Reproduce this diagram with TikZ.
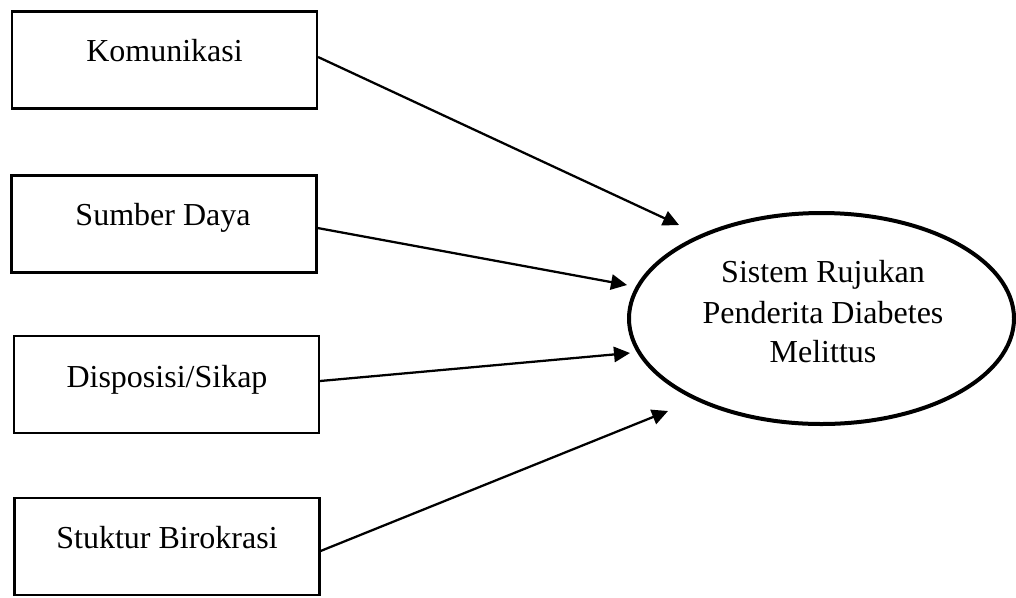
\documentclass[tikz,border=0pt]{standalone}
\usepackage{fontspec}
\setmainfont{Liberation Serif}
\usetikzlibrary{shapes.geometric,arrows.meta}
\begin{document}
\begin{tikzpicture}[x=0.75pt,y=-0.75pt,
  box/.style={draw, line width=1.6pt, minimum width=305*0.75pt, minimum height=97*0.75pt, inner sep=0pt},
  lbl/.style={font=\fontsize{24}{30}\selectfont, anchor=base, inner sep=0pt},
  oval/.style={draw, ellipse, line width=3pt, minimum width=385*0.75pt, minimum height=211*0.75pt, inner sep=0pt},
  arr/.style={line width=1.7pt, -{Triangle[length=12pt,width=11.5pt]}}]
\useasboundingbox (0,0) rectangle (1016,597);
% boxes
\node[box] (b1) at (164.5,60) {};
\node[box] (b2) at (164,224) {};
\node[box] (b3) at (166.5,384.5) {};
\node[box] (b4) at (167,546.5) {};
\node[lbl] (t1) at (164.5,61) {Komunikasi};
\node[lbl] (t2) at (163,225) {Sumber Daya};
\node[lbl] (t3) at (167,387) {Disposisi/Sikap};
\node[lbl] (t4) at (167,548) {Stuktur Birokrasi};
% ellipse
\node[oval] (e) at (821.5,318.5) {};
\node[lbl] (e1) at (823,282) {Sistem Rujukan};
\node[lbl] (e2) at (823,323) {Penderita Diabetes};
\node[lbl] (e3) at (823,362) {Melittus};
% arrow tips
\coordinate (p1) at (679,225);
\coordinate (p2) at (627,285);
\coordinate (p3) at (630,353);
\coordinate (p4) at (668,411);
\draw[arr] (b1.east |- 0,57) -- (p1);
\draw[arr] (b2.east |- 0,228) -- (p2);
\draw[arr] (b3.east |- 0,381) -- (p3);
\draw[arr] (b4.east |- 0,551) -- (p4);
\end{tikzpicture}
\end{document}
